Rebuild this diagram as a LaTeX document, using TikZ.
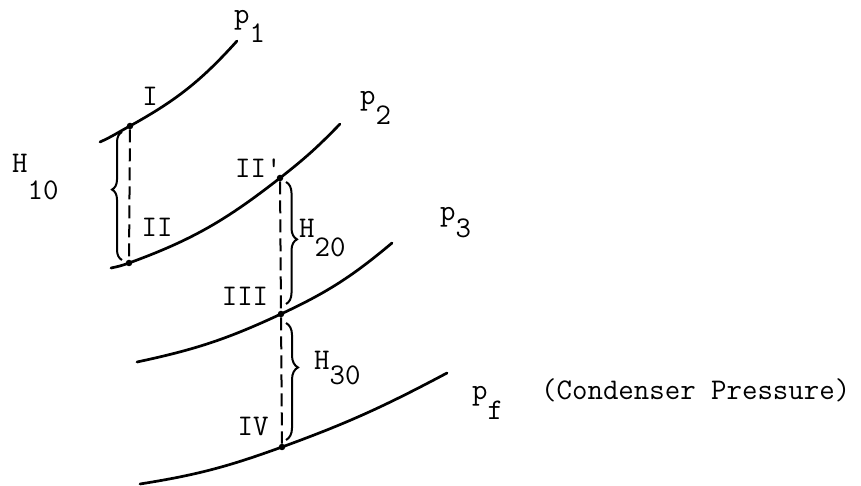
\documentclass[tikz,border=0pt]{standalone}
\usepackage{tikz}
\usetikzlibrary{decorations.pathreplacing}
\newcommand{\subtxt}[2]{\raisebox{-#1}{#2}}

\begin{document}
\begin{tikzpicture}[
  x=1pt, y=1pt,
  isobar/.style={line width=2.7pt, line cap=round},
  drop/.style={line width=2pt, dash pattern=on 13pt off 6pt},
  hbrace/.style={decorate, line width=2pt},
  statept/.style={circle, fill=black, inner sep=0pt, minimum size=6.5pt},
  lbl/.style={font=\fontsize{30}{35}\selectfont\ttfamily, inner sep=0pt},
]
  \useasboundingbox (0,0) rectangle (861,486);

  % ---- State points ----
  \node[statept] (n1)  at (130,360) {};
  \node[statept] (n2)  at (129,223) {};
  \node[statept] (n2p) at (280,308) {};
  \node[statept] (n3)  at (281,172) {};
  \node[statept] (n4)  at (282,39) {};

  % ---- Isobars ----
  \draw[isobar] (100,344) to[out=24,in=208] (n1.center) to[out=29,in=228] (237,445);
  \draw[isobar] (111,218) to[out=11,in=200] (n2.center) to[out=20,in=218] (n2p.center)
                to[out=38,in=226] (340,362);
  \draw[isobar] (137,124) to[out=12,in=205] (n3.center) to[out=25,in=220] (392,243);
  \draw[isobar] (140,2) to[out=9,in=200] (n4.center) to[out=20,in=208] (447,113);

  % ---- Expansions ----
  \draw[drop] (n1) -- (n2);
  \draw[drop] (n2p) -- (n3);
  \draw[drop] (n3) -- (n4);

  % ---- Braces ----
  \coordinate (b1a) at (122,226);
  \coordinate (b1b) at (122,354);
  \coordinate (b2a) at (286,304);
  \coordinate (b2b) at (286,182);
  \coordinate (b3a) at (286,163);
  \coordinate (b3b) at (286,46);
  \draw[hbrace, decoration={brace, amplitude=10pt, aspect=0.55}] (b1a) -- (b1b);
  \draw[hbrace, decoration={brace, amplitude=11pt, aspect=0.47}] (b2a) -- (b2b);
  \draw[hbrace, decoration={brace, amplitude=12pt, aspect=0.38}] (b3a) -- (b3b);

  % ---- Labels ----
  \node[lbl, anchor=base] (l1)   at (150,380) {I};
  \node[lbl, anchor=base] (l2)   at (157,249) {II};
  \node[lbl, anchor=base west] (l2p) at (235,308) {II'};
  \node[lbl, anchor=base] (l3)   at (245,180) {III};
  \node[lbl, anchor=base] (l4)   at (253,50) {IV};

  \node[lbl, anchor=base west] (h10) at (12,313) {H\subtxt{27pt}{10}};
  \node[lbl, anchor=base west] (h20) at (299,248) {H\subtxt{19pt}{20}};
  \node[lbl, anchor=base west] (h30) at (314,116) {H\subtxt{15pt}{30}};

  \node[lbl, anchor=base west] (p1) at (234,462) {p\subtxt{19pt}{1}};
  \node[lbl, anchor=base west] (p2) at (360,381) {p\subtxt{20pt}{2}};
  \node[lbl, anchor=base west] (p3) at (440,265) {p\subtxt{17pt}{3}};
  \node[lbl, anchor=base west] (pf) at (472,86) {p\subtxt{20pt}{f}};
  \node[lbl, anchor=base west] (cond) at (541,86) {(Condenser Pressure)};
\end{tikzpicture}
\end{document}
